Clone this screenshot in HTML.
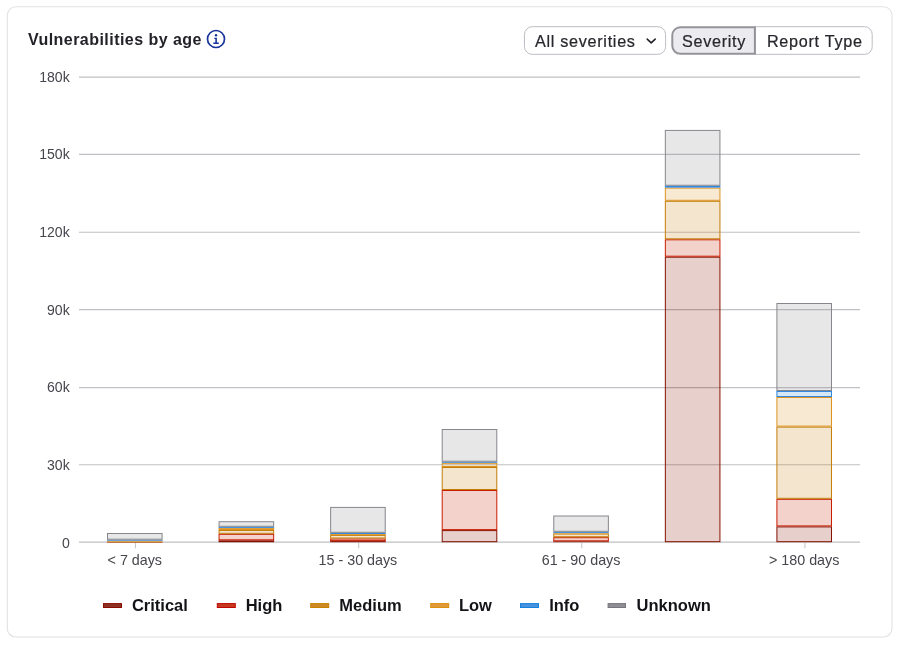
<!DOCTYPE html>
<html lang="en"><head><meta charset="utf-8"><title>Vulnerabilities by age</title>
<style>
html,body{margin:0;padding:0;background:#fff;}
body{width:900px;height:645px;position:relative;overflow:hidden;font-family:"Liberation Sans",sans-serif;color:#28272d;}
text{font-family:"Liberation Sans",sans-serif;}
.tt{font-size:16px;font-weight:700;fill:#232228;letter-spacing:0.46px}
.bt{font-size:16.2px;fill:#28272d;stroke:#28272d;stroke-width:0.22px;}
.ax{font-size:14.3px;fill:#47454c;}
.lg{font-size:16.5px;font-weight:700;fill:#141318;}
</style></head><body>
<svg width="900" height="645" viewBox="0 0 900 645" style="position:absolute;left:0;top:0">
<rect x="7.3" y="6.8" width="884.7" height="630.2" rx="8.5" fill="#fff" stroke="#e2e2e7" stroke-width="1.1"/>
<rect x="524.45" y="26.7" width="141.15" height="27.65" rx="7.8" fill="#fff" stroke="#bdbdc4" stroke-width="1"/>
<text x="535.0" y="46.7" class="bt" style="letter-spacing:0.7px">All severities</text>
<path d="M647.2 39.1l4.0 3.8l4.0-3.8" fill="none" stroke="#1f1e24" stroke-width="1.5" stroke-linecap="round" stroke-linejoin="round"/>
<path d="M755 26.7H864.6a7.6 7.6 0 0 1 7.6 7.6V46.75a7.6 7.6 0 0 1 -7.6 7.6H755z" fill="#fff" stroke="#bdbdc4" stroke-width="1"/>
<text x="766.9" y="46.7" class="bt" style="letter-spacing:0.72px">Report Type</text>
<path d="M754.9 27.25H680.3a8 8 0 0 0 -8 8V45.8a8 8 0 0 0 8 8H754.9z" fill="#ececf0" stroke="#94939a" stroke-width="2"/>
<text x="682.0" y="46.7" class="bt" style="letter-spacing:0.69px">Severity</text>
<text x="27.9" y="44.8" class="tt">Vulnerabilities by age</text>
<g transform="translate(206 29)"><circle cx="10" cy="10" r="8.5" fill="none" stroke="#17359a" stroke-width="1.7"/><circle cx="10" cy="6.3" r="1.2" fill="#17359a"/><path d="M8.3 8.7h2.6v4.9h1.9v1.4H7.3v-1.4h2v-3.5H8.3z" fill="#17359a"/></g>
<line x1="79.0" x2="860.0" y1="542.10" y2="542.10" stroke="#c0c0c5" stroke-width="1.1"/>
<text x="69.7" y="547.95" text-anchor="end" class="ax" style="font-size:14.05px">0</text>
<line x1="79.0" x2="860.0" y1="464.70" y2="464.70" stroke="#c0c0c5" stroke-width="1.1"/>
<text x="69.7" y="470.25" text-anchor="end" class="ax" style="font-size:14.05px">30k</text>
<line x1="79.0" x2="860.0" y1="387.60" y2="387.60" stroke="#c0c0c5" stroke-width="1.1"/>
<text x="69.7" y="392.35" text-anchor="end" class="ax" style="font-size:14.05px">60k</text>
<line x1="79.0" x2="860.0" y1="309.60" y2="309.60" stroke="#c0c0c5" stroke-width="1.1"/>
<text x="69.7" y="314.75" text-anchor="end" class="ax" style="font-size:14.05px">90k</text>
<line x1="79.0" x2="860.0" y1="232.30" y2="232.30" stroke="#c0c0c5" stroke-width="1.1"/>
<text x="69.7" y="237.05" text-anchor="end" class="ax" style="font-size:14.05px">120k</text>
<line x1="79.0" x2="860.0" y1="154.40" y2="154.40" stroke="#c0c0c5" stroke-width="1.1"/>
<text x="69.7" y="159.35" text-anchor="end" class="ax" style="font-size:14.05px">150k</text>
<line x1="79.0" x2="860.0" y1="77.10" y2="77.10" stroke="#c0c0c5" stroke-width="1.1"/>
<text x="69.7" y="81.55" text-anchor="end" class="ax" style="font-size:14.05px">180k</text>
<line x1="135.49" x2="135.49" y1="542.2" y2="548.3000000000001" stroke="#c8c8cd" stroke-width="1.1"/>
<text x="134.79" y="564.5" text-anchor="middle" class="ax">&lt; 7 days</text>
<line x1="358.63" x2="358.63" y1="542.2" y2="548.3000000000001" stroke="#c8c8cd" stroke-width="1.1"/>
<text x="357.93" y="564.5" text-anchor="middle" class="ax">15 - 30 days</text>
<line x1="581.77" x2="581.77" y1="542.2" y2="548.3000000000001" stroke="#c8c8cd" stroke-width="1.1"/>
<text x="581.07" y="564.5" text-anchor="middle" class="ax">61 - 90 days</text>
<line x1="804.91" x2="804.91" y1="542.2" y2="548.3000000000001" stroke="#c8c8cd" stroke-width="1.1"/>
<text x="804.21" y="564.5" text-anchor="middle" class="ax">&gt; 180 days</text>
<rect x="106.99" y="542.70" width="55.60" height="0.20" fill="#861100"/>
<rect x="106.99" y="542.30" width="55.60" height="0.40" fill="#c91c00"/>
<rect x="106.99" y="541.60" width="55.60" height="0.70" fill="#c47d08"/>
<rect x="106.99" y="540.70" width="55.60" height="0.90" fill="#dc9322"/>
<rect x="106.99" y="539.70" width="55.60" height="1.00" fill="#3289de"/>
<rect x="107.49" y="533.50" width="54.60" height="5.70" fill="#87868c" fill-opacity="0.2" stroke="#87868c" stroke-width="1.00"/>
<rect x="219.06" y="540.80" width="54.60" height="0.90" fill="#861100" fill-opacity="0.2" stroke="#861100" stroke-width="1.00"/>
<rect x="219.06" y="534.30" width="54.60" height="5.50" fill="#c91c00" fill-opacity="0.2" stroke="#c91c00" stroke-width="1.00"/>
<rect x="219.06" y="530.50" width="54.60" height="2.80" fill="#c47d08" fill-opacity="0.2" stroke="#c47d08" stroke-width="1.00"/>
<rect x="219.06" y="528.40" width="54.60" height="1.10" fill="#dc9322" fill-opacity="0.2" stroke="#dc9322" stroke-width="1.00"/>
<rect x="219.06" y="527.30" width="54.60" height="0.10" fill="#3289de" fill-opacity="0.2" stroke="#3289de" stroke-width="1.00"/>
<rect x="219.06" y="521.70" width="54.60" height="4.60" fill="#87868c" fill-opacity="0.2" stroke="#87868c" stroke-width="1.00"/>
<rect x="330.63" y="541.60" width="54.60" height="0.10" fill="#861100" fill-opacity="0.2" stroke="#861100" stroke-width="1.00"/>
<rect x="330.63" y="539.00" width="54.60" height="1.60" fill="#c91c00" fill-opacity="0.2" stroke="#c91c00" stroke-width="1.00"/>
<rect x="330.63" y="535.40" width="54.60" height="2.60" fill="#c47d08" fill-opacity="0.2" stroke="#c47d08" stroke-width="1.00"/>
<rect x="330.13" y="534.00" width="55.60" height="0.90" fill="#dc9322"/>
<rect x="330.63" y="533.30" width="54.60" height="0.20" fill="#3289de" fill-opacity="0.2" stroke="#3289de" stroke-width="1.00"/>
<rect x="330.63" y="507.40" width="54.60" height="24.90" fill="#87868c" fill-opacity="0.2" stroke="#87868c" stroke-width="1.00"/>
<rect x="442.20" y="530.60" width="54.60" height="11.10" fill="#861100" fill-opacity="0.2" stroke="#861100" stroke-width="1.00"/>
<rect x="442.20" y="490.50" width="54.60" height="39.10" fill="#c91c00" fill-opacity="0.2" stroke="#c91c00" stroke-width="1.00"/>
<rect x="442.20" y="467.50" width="54.60" height="22.00" fill="#c47d08" fill-opacity="0.2" stroke="#c47d08" stroke-width="1.00"/>
<rect x="442.20" y="463.30" width="54.60" height="3.20" fill="#dc9322" fill-opacity="0.2" stroke="#dc9322" stroke-width="1.00"/>
<rect x="442.20" y="462.20" width="54.60" height="0.10" fill="#3289de" fill-opacity="0.2" stroke="#3289de" stroke-width="1.00"/>
<rect x="442.20" y="429.50" width="54.60" height="31.70" fill="#87868c" fill-opacity="0.2" stroke="#87868c" stroke-width="1.00"/>
<rect x="553.27" y="541.30" width="55.60" height="0.90" fill="#861100"/>
<rect x="553.77" y="537.70" width="54.60" height="3.10" fill="#c91c00" fill-opacity="0.2" stroke="#c91c00" stroke-width="1.00"/>
<rect x="553.77" y="534.00" width="54.60" height="2.70" fill="#c47d08" fill-opacity="0.2" stroke="#c47d08" stroke-width="1.00"/>
<rect x="553.27" y="532.90" width="55.60" height="0.60" fill="#dc9322"/>
<rect x="553.77" y="532.30" width="54.60" height="0.10" fill="#3289de" fill-opacity="0.2" stroke="#3289de" stroke-width="1.00"/>
<rect x="553.77" y="516.00" width="54.60" height="15.30" fill="#87868c" fill-opacity="0.2" stroke="#87868c" stroke-width="1.00"/>
<rect x="665.34" y="257.20" width="54.60" height="284.50" fill="#861100" fill-opacity="0.2" stroke="#861100" stroke-width="1.00"/>
<rect x="665.34" y="239.80" width="54.60" height="16.40" fill="#c91c00" fill-opacity="0.2" stroke="#c91c00" stroke-width="1.00"/>
<rect x="665.34" y="201.30" width="54.60" height="37.50" fill="#c47d08" fill-opacity="0.2" stroke="#c47d08" stroke-width="1.00"/>
<rect x="665.34" y="188.10" width="54.60" height="12.20" fill="#dc9322" fill-opacity="0.2" stroke="#dc9322" stroke-width="1.00"/>
<rect x="665.34" y="186.25" width="54.60" height="0.85" fill="#3289de" fill-opacity="0.2" stroke="#3289de" stroke-width="1.00"/>
<rect x="665.34" y="130.40" width="54.60" height="54.85" fill="#87868c" fill-opacity="0.2" stroke="#87868c" stroke-width="1.00"/>
<rect x="776.91" y="526.90" width="54.60" height="14.80" fill="#861100" fill-opacity="0.2" stroke="#861100" stroke-width="1.00"/>
<rect x="776.91" y="499.30" width="54.60" height="26.60" fill="#c91c00" fill-opacity="0.2" stroke="#c91c00" stroke-width="1.00"/>
<rect x="776.91" y="427.10" width="54.60" height="71.20" fill="#c47d08" fill-opacity="0.2" stroke="#c47d08" stroke-width="1.00"/>
<rect x="776.91" y="397.50" width="54.60" height="28.60" fill="#dc9322" fill-opacity="0.2" stroke="#dc9322" stroke-width="1.00"/>
<rect x="776.91" y="391.50" width="54.60" height="5.00" fill="#3289de" fill-opacity="0.2" stroke="#3289de" stroke-width="1.00"/>
<rect x="776.91" y="303.50" width="54.60" height="87.00" fill="#87868c" fill-opacity="0.2" stroke="#87868c" stroke-width="1.00"/>
<rect x="103.50" y="603.6" width="18.0" height="3.9" fill="#8c3424" stroke="#8b0a00" stroke-width="1"/>
<text x="131.90" y="610.9" class="lg">Critical</text>
<rect x="217.30" y="603.6" width="18.0" height="3.9" fill="#c63a20" stroke="#c20500" stroke-width="1"/>
<text x="245.70" y="610.9" class="lg">High</text>
<rect x="310.70" y="603.6" width="18.0" height="3.9" fill="#cc8a25" stroke="#c87f00" stroke-width="1"/>
<text x="339.30" y="610.9" class="lg">Medium</text>
<rect x="430.70" y="603.6" width="18.0" height="3.9" fill="#df9a3a" stroke="#dc8f0c" stroke-width="1"/>
<text x="458.90" y="610.9" class="lg">Low</text>
<rect x="520.50" y="603.6" width="18.0" height="3.9" fill="#4a93dc" stroke="#1282e0" stroke-width="1"/>
<text x="549.20" y="610.9" class="lg">Info</text>
<rect x="608.10" y="603.6" width="17.4" height="3.9" fill="#8f8e94" stroke="#77767c" stroke-width="1"/>
<text x="636.60" y="610.9" class="lg">Unknown</text>
</svg>
</body></html>
